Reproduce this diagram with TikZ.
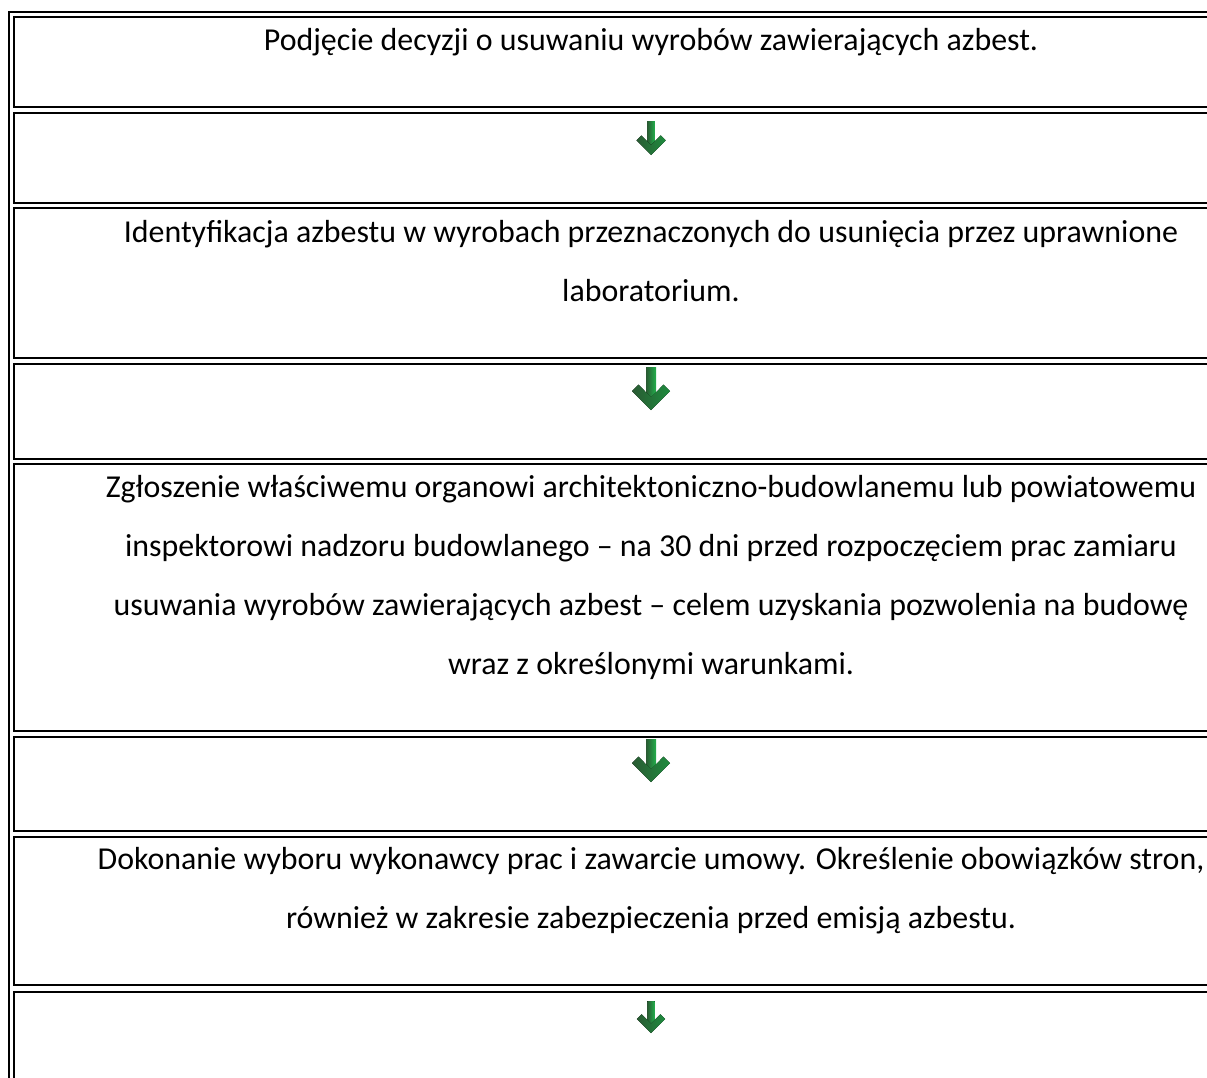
\documentclass[tikz,border=0pt]{standalone}
\usepackage{fontspec}
\setmainfont{Carlito}
\usepackage{xcolor}
\definecolor{tline}{HTML}{000000}
\definecolor{arrdark}{HTML}{2A5A33}
\definecolor{arrmid}{HTML}{1E8C3E}
\definecolor{arrlight}{HTML}{22B04C}
\tikzset{
  cellbox/.style={draw=tline, line width=2pt, anchor=north west, outer sep=0pt,
                  inner sep=0pt, minimum width=1273.4pt},
  celltext/.style={anchor=base, align=center, inner sep=0pt,
                   font=\fontsize{31.9}{59}\selectfont},
  pics/greenarrow/.style={code={
    \fill[left color=arrdark, right color=arrlight] (-5,-43) rectangle (5,-10);
    \fill[left color=arrdark, right color=arrmid]
      (0,0) -- (-19,-19) -- (-12.6,-25.4) -- (0,-12.7) -- (12.6,-25.4) -- (19,-19) -- cycle;
  }},
}

\begin{document}
\begin{tikzpicture}[x=1pt, y=-1pt]
  \useasboundingbox (0,0) rectangle (1207,1077);
  \clip (0,0) rectangle (1207,1077);

  % outer frame of the table
  \draw[tline, line width=2pt] (9.3,12.3) rectangle (1292.7,1095);

  % cells
  \node[cellbox, minimum height=90pt]    (row1) at (14.3,17)    {};
  \node[cellbox, minimum height=90pt]    (row2) at (14.3,113)   {};
  \node[cellbox, minimum height=150pt]   (row3) at (14.3,208.3) {};
  \node[cellbox, minimum height=95pt]    (row4) at (14.3,363.7) {};
  \node[cellbox, minimum height=267pt]   (row5) at (14.3,464)   {};
  \node[cellbox, minimum height=94.3pt]  (row6) at (14.3,736.7) {};
  \node[cellbox, minimum height=148.8pt] (row7) at (14.3,836.5) {};
  \node[cellbox, minimum height=95pt]    (row8) at (14.3,991.7) {};

  % steps (base = last line)
  \node[celltext] (decyzja) at (651,50)
    {Podjęcie decyzji o usuwaniu wyrobów zawierających azbest.};
  \node[celltext] (identyfikacja) at (651,301)
    {Identyfikacja azbestu w wyrobach przeznaczonych do usunięcia przez uprawnione\\
     laboratorium.};
  \node[celltext] (zgloszenie) at (651,674)
    {Zgłoszenie właściwemu organowi architektoniczno-budowlanemu lub powiatowemu\\
     inspektorowi nadzoru budowlanego – na 30 dni przed rozpoczęciem prac zamiaru\\
     usuwania wyrobów zawierających azbest – celem uzyskania pozwolenia na budowę\\
     wraz z określonymi warunkami.};
  \node[celltext] (wykonawca) at (651,928.5)
    {Dokonanie wyboru wykonawcy prac i zawarcie umowy. Określenie obowiązków stron,\\
     również w zakresie zabezpieczenia przed emisją azbestu.};

  % arrows between the steps
  \pic[scale=0.77] at (651,155)  {greenarrow};
  \pic             at (651,410)  {greenarrow};
  \pic             at (651,782)  {greenarrow};
  \pic[scale=0.74] at (651,1033) {greenarrow};
\end{tikzpicture}
\end{document}
